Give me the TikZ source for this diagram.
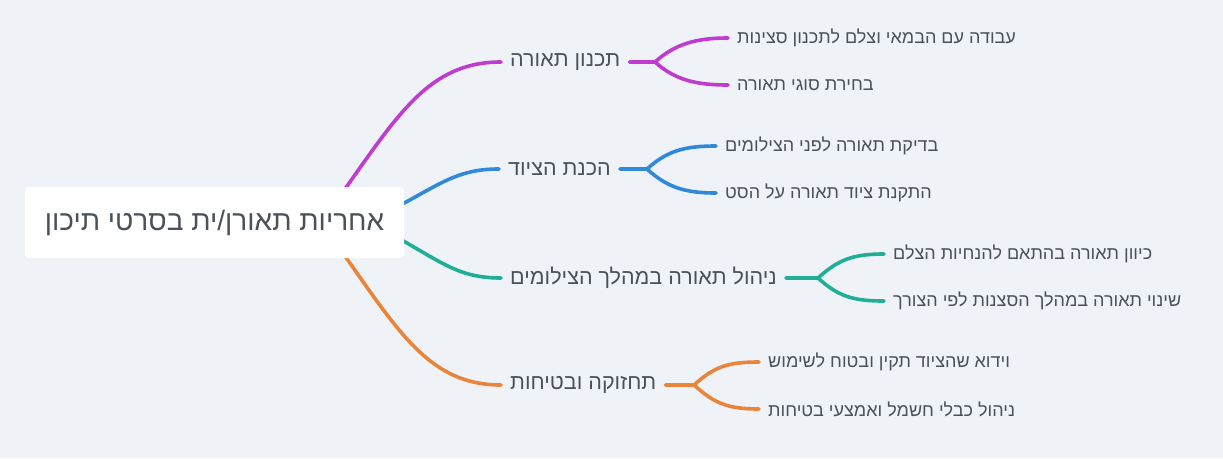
\documentclass[tikz,border=0pt]{standalone}
\usepackage{fontspec}
\usetikzlibrary{calc}
\TeXXeTstate=1
\newfontfamily\heb[Script=Hebrew]{Liberation Sans}
\definecolor{bgc}{HTML}{EFF3F7}
\definecolor{txt}{HTML}{4B5159}
\definecolor{cmag}{HTML}{C03CCF}
\definecolor{cblu}{HTML}{3189DB}
\definecolor{ctea}{HTML}{20AE98}
\definecolor{cora}{HTML}{E9853B}
\tikzset{
  rootbox/.style={fill=white, rounded corners=4pt, minimum width=379pt, minimum height=71pt, inner sep=0pt, text=txt, font=\heb\fontsize{28}{33}\selectfont},
  lone/.style={anchor=west, inner xsep=9pt, inner ysep=2pt, text=txt, font=\heb\fontsize{21.5}{25}\selectfont},
  leaf/.style={anchor=west, inner xsep=9pt, inner ysep=2pt, text=txt, font=\heb\fontsize{18}{22}\selectfont},
  conn/.style={line width=3.6pt, line cap=round},
}
\begin{document}
\begin{tikzpicture}[x=1pt,y=-1pt]
\fill[bgc] (0,0) rectangle (1223,458);
\useasboundingbox (0,0) rectangle (1223,458);

% level 1
\node[lone] (a) at (501,62) {\beginR תכנון תאורה\endR};
\node[lone] (b) at (499,169) {\beginR הכנת הציוד\endR};
\node[lone] (c) at (501,278) {\beginR ניהול תאורה במהלך הצילומים\endR};
\node[lone] (d) at (501,385) {\beginR תחזוקה ובטיחות\endR};

% leaves
\node[leaf] (a1) at (728,38) {\beginR עבודה עם הבמאי וצלם לתכנון סצינות\endR};
\node[leaf] (a2) at (728,85) {\beginR בחירת סוגי תאורה\endR};
\node[leaf] (b1) at (716,146) {\beginR בדיקת תאורה לפני הצילומים\endR};
\node[leaf] (b2) at (716,193) {\beginR התקנת ציוד תאורה על הסט\endR};
\node[leaf] (c1) at (884,254) {\beginR כיוון תאורה בהתאם להנחיות הצלם\endR};
\node[leaf] (c2) at (884,301) {\beginR שינוי תאורה במהלך הסצנות לפי הצורך\endR};
\node[leaf] (d1) at (759,362) {\beginR וידוא שהציוד תקין ובטוח לשימוש\endR};
\node[leaf] (d2) at (759,409) {\beginR ניהול כבלי חשמל ואמצעי בטיחות\endR};

% junctions
\coordinate (ja) at (655,62);
\coordinate (jb) at (647,169);
\coordinate (jc) at (818,278);
\coordinate (jd) at (694,385);

% root connectors (under the root box)
\draw[conn, cmag] (330,210) .. controls (395,120) and (425,62) .. (a.west);
\draw[conn, cblu] (380,216) .. controls (440,185) and (455,169) .. (b.west);
\draw[conn, ctea] (380,228) .. controls (440,260) and (455,278) .. (c.west);
\draw[conn, cora] (330,235) .. controls (395,325) and (425,385) .. (d.west);

\node[rootbox] (root) at (214.5,222.5) {\beginR אחריות תאורן/ית בסרטי תיכון\endR};

% branch connectors
\draw[conn, cmag] (a.east) -- (ja) .. controls ($(ja)+(20,-18)$) and ($(a1.west)+(-32,0)$) .. (a1.west);
\draw[conn, cmag] (ja) .. controls ($(ja)+(20,18)$) and ($(a2.west)+(-32,0)$) .. (a2.west);
\draw[conn, cblu] (b.east) -- (jb) .. controls ($(jb)+(20,-18)$) and ($(b1.west)+(-32,0)$) .. (b1.west);
\draw[conn, cblu] (jb) .. controls ($(jb)+(20,18)$) and ($(b2.west)+(-32,0)$) .. (b2.west);
\draw[conn, ctea] (c.east) -- (jc) .. controls ($(jc)+(20,-18)$) and ($(c1.west)+(-32,0)$) .. (c1.west);
\draw[conn, ctea] (jc) .. controls ($(jc)+(20,18)$) and ($(c2.west)+(-32,0)$) .. (c2.west);
\draw[conn, cora] (d.east) -- (jd) .. controls ($(jd)+(20,-18)$) and ($(d1.west)+(-32,0)$) .. (d1.west);
\draw[conn, cora] (jd) .. controls ($(jd)+(20,18)$) and ($(d2.west)+(-32,0)$) .. (d2.west);
\end{tikzpicture}
\end{document}
